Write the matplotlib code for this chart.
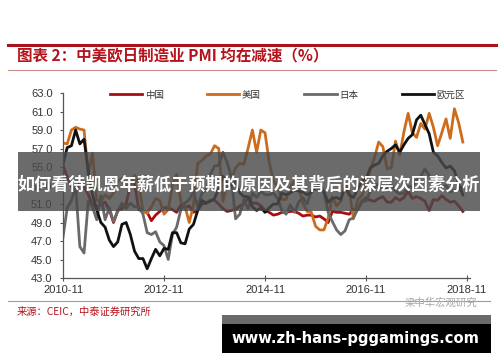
import numpy as np
import matplotlib
matplotlib.use("Agg")
import matplotlib.pyplot as plt
from matplotlib.lines import Line2D
from matplotlib.patches import Rectangle

plt.rcParams['font.family'] = ['Noto Sans CJK SC', 'DejaVu Sans']

# monthly PMI, 2010-11 .. 2018-10
china = [55.2, 53.9,
         52.9, 52.2, 53.4, 52.9, 52.0, 50.9, 50.7, 50.9, 51.2, 50.4, 49.0, 50.3,
         50.5, 51.0, 53.1, 53.3, 50.4, 50.2, 50.1, 49.2, 49.8, 50.2, 50.6, 50.6,
         50.4, 50.1, 50.9, 50.6, 50.8, 50.1, 50.3, 51.0, 51.1, 51.4, 51.4, 51.0,
         50.5, 50.2, 50.3, 50.4, 50.8, 51.0, 51.7, 51.1, 51.1, 50.8, 50.3, 50.1,
         49.8, 49.9, 50.1, 50.1, 50.2, 50.2, 50.0, 49.7, 49.8, 49.8, 49.6, 49.7,
         49.4, 49.0, 50.2, 50.1, 50.1, 50.0, 49.9, 50.4, 50.4, 51.2, 51.7, 51.4,
         51.3, 51.6, 51.8, 51.2, 51.2, 51.7, 51.4, 51.7, 52.4, 51.6, 51.8, 51.6,
         51.3, 50.3, 51.5, 51.4, 51.9, 51.5, 51.2, 51.3, 50.8, 50.2]
usa = [57.6, 57.5,
       59.0, 59.3, 59.1, 59.0, 54.2, 56.5, 51.4, 51.3, 52.0, 51.6, 52.2, 53.5,
       53.7, 52.9, 53.0, 54.1, 53.2, 50.2, 50.0, 50.7, 51.6, 51.4, 49.9, 50.4,
       53.1, 54.2, 51.3, 50.7, 49.0, 50.9, 55.4, 55.7, 56.2, 56.4, 57.3, 57.0,
       51.3, 53.2, 53.7, 54.9, 55.4, 55.3, 57.1, 59.0, 56.6, 59.0, 58.7, 55.5,
       53.5, 52.9, 51.5, 51.5, 52.8, 53.5, 52.7, 51.1, 50.2, 50.1, 48.6, 48.2,
       48.2, 49.5, 51.8, 50.8, 51.3, 53.2, 52.6, 49.4, 51.5, 51.9, 53.2, 54.7,
       56.0, 57.7, 57.2, 54.8, 54.9, 57.8, 56.3, 58.8, 60.8, 58.7, 58.2, 59.7,
       59.1, 60.8, 59.3, 57.3, 58.7, 60.2, 58.1, 61.3, 59.8, 57.7]
japan = [47.4, 50.6,
         51.4, 52.9, 46.4, 45.7, 51.3, 50.7, 49.3, 51.9, 49.3, 50.6, 49.1, 50.2,
         51.1, 50.5, 51.1, 50.7, 50.7, 49.9, 47.9, 47.7, 48.0, 46.9, 46.5, 45.0,
         47.7, 48.5, 50.4, 51.1, 51.5, 52.3, 50.7, 52.2, 52.5, 54.2, 55.1, 55.2,
         56.6, 55.5, 53.9, 49.4, 49.9, 51.5, 50.5, 52.2, 51.7, 52.4, 52.0, 52.0,
         52.2, 51.6, 50.3, 49.9, 50.9, 50.1, 51.2, 51.7, 51.0, 52.4, 52.6, 52.6,
         52.3, 50.1, 49.1, 48.2, 47.7, 48.1, 49.3, 49.5, 50.4, 51.4, 51.3, 52.4,
         52.7, 53.3, 52.4, 52.7, 53.1, 52.4, 52.1, 52.2, 52.9, 52.8, 53.6, 54.0,
         54.8, 54.1, 53.1, 53.8, 52.8, 53.0, 52.3, 52.5, 52.5, 52.9]
euro = [55.3, 57.1,
        57.3, 59.0, 57.5, 58.0, 54.6, 52.0, 50.4, 49.0, 48.5, 47.1, 46.4, 46.9,
        48.8, 49.0, 47.7, 45.9, 45.1, 45.1, 44.0, 45.1, 46.1, 45.4, 46.2, 46.1,
        47.9, 47.9, 46.8, 46.7, 48.3, 48.8, 50.3, 51.4, 51.1, 51.3, 51.6, 52.7,
        54.0, 53.2, 53.0, 53.4, 52.2, 51.8, 51.8, 50.7, 50.3, 50.6, 50.1, 50.6,
        51.0, 51.0, 52.2, 52.0, 52.2, 52.5, 52.4, 52.3, 52.0, 52.3, 52.8, 53.2,
        52.3, 51.2, 51.6, 51.7, 51.5, 52.8, 52.0, 51.7, 52.6, 53.5, 53.7, 54.9,
        55.2, 55.4, 56.2, 56.7, 57.0, 57.4, 56.6, 57.4, 58.1, 58.5, 60.1, 60.6,
        59.6, 58.6, 56.6, 56.2, 55.5, 54.9, 55.1, 54.6, 53.2, 52.0]

series_names = ['中国', '美国', '日本', '欧元区']
series_colors = ['#a80d10', '#cc6c1c', '#6a6a6a', '#111111']
xtick_pos = [0, 24, 48, 72, 96]
xtick_labels = ['2010-11', '2012-11', '2014-11', '2016-11', '2018-11']
yticks = np.arange(43, 63.1, 2)

fig = plt.figure(figsize=(5, 3.62), dpi=100)
ax = fig.add_axes([0.126, 0.232, 0.814, 0.511])

x = np.arange(len(china))
for vals, name, col in zip([china, usa, japan, euro], series_names, series_colors):
    ax.plot(x, vals, color=col, lw=2.0, label=name, solid_joinstyle='round')

ax.set_xlim(0, 96.7)
ax.set_ylim(43, 63)
ax.set_yticks(yticks)
ax.set_yticklabels(['%.1f' % v for v in yticks], family='Liberation Sans',
                   fontsize=8, color='#333333')
ax.set_xticks(xtick_pos)
ax.set_xticklabels(xtick_labels, family='Liberation Sans', fontsize=8, color='#333333')
ax.tick_params(axis='y', length=2.5, width=0.8, color='#555555', pad=5)
ax.tick_params(axis='x', direction='inout', length=4, width=0.8, color='#555555', pad=3)
for s in ['top', 'right']:
    ax.spines[s].set_visible(False)
for s in ['left', 'bottom']:
    ax.spines[s].set_color('#555555')
    ax.spines[s].set_linewidth(0.9)

fig.legend(loc='center', bbox_to_anchor=(0.575, 0.738), ncol=4, frameon=False,
           fontsize=6.8, handlelength=3.4, columnspacing=4.6, handletextpad=0.3,
           labelcolor='#333333')

# header / footer rules
fig.add_artist(Line2D([0.016, 0.992], [0.876, 0.876], color='#a8141c', lw=2.2,
                      transform=fig.transFigure))
fig.add_artist(Line2D([0.016, 0.992], [0.807, 0.807], color='#c98a8a', lw=0.8,
                      transform=fig.transFigure))
fig.add_artist(Line2D([0.016, 0.98], [0.168, 0.168], color='#c98a8a', lw=0.8,
                      transform=fig.transFigure))
fig.text(0.034, 0.843, '图表 2：中美欧日制造业 PMI 均在减速（%）', fontsize=11.2,
         fontweight='bold', color='#b5121b', va='center', style='italic')
fig.text(0.034, 0.138, '来源：CEIC，中泰证券研究所', fontsize=7.4, color='#b5121b',
         va='center')
fig.text(0.955, 0.164, '梁中华宏观研究', fontsize=7.5, color='#a8a8a8', ha='right',
         va='center')

# overlay banner
fig.add_artist(Rectangle((0.036, 0.417), 0.924, 0.163, transform=fig.transFigure,
                         facecolor='#4a4a4a', alpha=0.82, edgecolor='none', zorder=5))
fig.text(0.498, 0.49, '如何看待凯恩年薪低于预期的原因及其背后的深层次因素分析',
         fontsize=12.3, fontweight='bold', color='white', ha='center', va='center',
         zorder=6)

# site watermark
fig.add_artist(Rectangle((0.444, 0.105), 0.538, 0.025, transform=fig.transFigure,
                         facecolor='#6a6a6a', edgecolor='none', zorder=5))
fig.add_artist(Rectangle((0.444, 0.025), 0.538, 0.080, transform=fig.transFigure,
                         facecolor='black', edgecolor='none', zorder=5))
fig.text(0.71, 0.066, 'www.zh-hans-pggamings.com', fontsize=10.6, fontweight='bold',
         color='white', ha='center', va='center', family='DejaVu Sans', zorder=6)

fig.savefig('out.png', dpi=100)
